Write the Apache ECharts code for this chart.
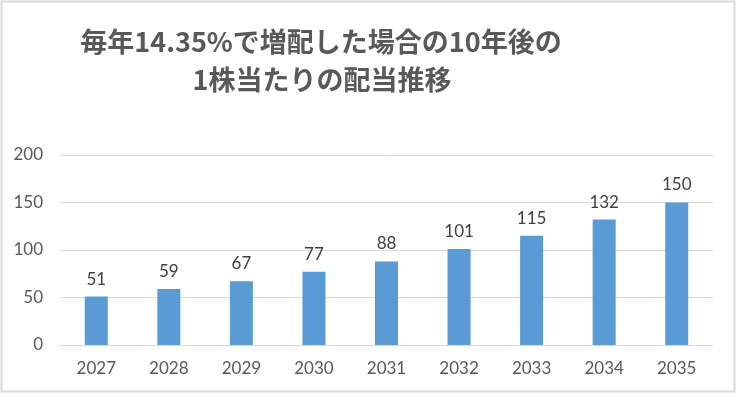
<!DOCTYPE html>
<html><head><meta charset="utf-8">
<script src="https://cdn.jsdelivr.net/npm/echarts@6/dist/echarts.min.js"></script>
<style>html,body{margin:0;padding:0;background:#fff}#c{width:737px;height:394px}</style>
</head><body><div id="c"></div>
<script>
const titleLines = ['毎年14.35%で増配した場合の10年後の', '1株当たりの配当推移'];
const categories = ['2027','2028','2029','2030','2031','2032','2033','2034','2035'];
const values = [51,59,67,77,88,101,115,132,150];
const yTicks = {min:0, max:200, interval:50};

const chart = echarts.init(document.getElementById('c'));
const numFont = 'Lato, "Liberation Sans", sans-serif';
chart.setOption({
  animation:false,
  backgroundColor:'#fff',
  grid:{left:60, right:24, top:155, bottom:49, containLabel:false},
  graphic:[
    {type:'rect', shape:{x:1.5,y:1.5,width:733,height:390}, style:{fill:'none', stroke:'#d9d9d9', lineWidth:2}, silent:true},
    {type:'text', x:321, y:42, style:{text:titleLines[0], textAlign:'center', textVerticalAlign:'middle', font:'bold 27px "Noto Sans CJK JP", sans-serif', fill:'#595959'}},
    {type:'text', x:322, y:80, style:{text:titleLines[1], textAlign:'center', textVerticalAlign:'middle', font:'bold 27px "Noto Sans CJK JP", sans-serif', fill:'#595959'}}
  ],
  xAxis:{type:'category', data:categories,
    axisLine:{show:true, lineStyle:{color:'#d9d9d9', width:1}},
    axisTick:{show:false},
    axisLabel:{color:'#595959', fontSize:17, fontFamily:numFont, margin:15}
  },
  yAxis:{type:'value', min:yTicks.min, max:yTicks.max, interval:yTicks.interval,
    axisLine:{show:false}, axisTick:{show:false},
    splitLine:{lineStyle:{color:'#d9d9d9', width:1}},
    axisLabel:{color:'#595959', fontSize:17, fontFamily:numFont, margin:17}
  },
  series:[{type:'bar', data:values, barWidth:23,
    itemStyle:{color:'#5B9BD5'},
    label:{show:true, position:'top', distance:9, color:'#404040', fontSize:17, fontFamily:numFont}
  }]
});
</script></body></html>
